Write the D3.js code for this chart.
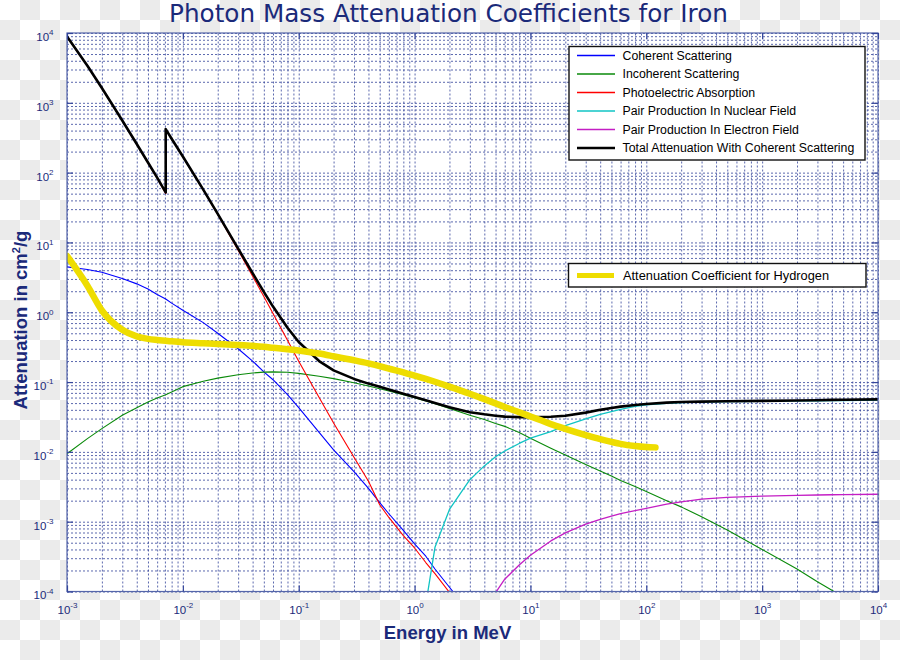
<!DOCTYPE html>
<html><head><meta charset="utf-8">
<script src="https://cdn.jsdelivr.net/npm/d3@7"></script>
<style>body{margin:0;background:#fff}svg{display:block}</style>
</head><body>
<script>
// ---------------- DATA ----------------
const energies = [0.001,0.0015,0.002,0.003,0.004,0.005,0.006,0.007112,0.007112,0.008,0.01,0.015,0.02,0.03,0.04,0.05,0.06,0.08,0.1,0.15,0.2,0.3,0.4,0.5,0.6,0.8,1,1.25,1.5,2,3,4,5,6,8,10,15,20,30,40,50,60,80,100,150,200,300,500,1000,2000,3000,4000,5000,10000];
const coherent = [4.46,4.1,3.75,3.05,2.55,2.15,1.8,1.55,1.55,1.35,1.07,0.71,0.50,0.30,0.20,0.14,0.108,0.066,0.043,0.019,0.0107,0.0052,0.003,0.00187,0.0013,0.00075,0.00048,0.00032,0.00021,0.000115,0.00005,null,null,null,null,null,null,null,null,null,null,null,null,null,null,null,null,null,null,null,null,null,null,null];
const incoherent = [0.0094,0.0155,0.0215,0.0335,0.043,0.052,0.059,0.066,0.066,0.072,0.086,0.103,0.114,0.127,0.135,0.139,0.140,0.138,0.133,0.121,0.112,0.098,0.088,0.080,0.0745,0.066,0.0595,0.0535,0.049,0.042,0.0335,0.029,0.0255,0.0232,0.019,0.0157,0.0113,0.0090,0.0066,0.0053,0.0045,0.0039,0.0032,0.0027,0.0020,0.00163,0.00118,0.00076,0.00040,0.00021,0.000138,0.000104,0.000084,0.000045];
const photoelectric = [8895,3395,1622,554.5,254.1,137.6,82.9,50.4,418.4,304.2,169.4,56.27,25.07,7.75,3.29,1.68,0.957,0.396,0.199,0.06,0.026,0.0084,0.0038,0.00175,0.00115,0.00063,0.00042,0.00026,0.00018,0.000097,0.00004,null,null,null,null,null,null,null,null,null,null,null,null,null,null,null,null,null,null,null,null,null,null,null];
const pairNuclear = [null,null,null,null,null,null,null,null,null,null,null,null,null,null,null,null,null,null,null,null,null,null,null,null,null,null,null,0.000065,0.00043,0.0015,0.0040,0.0063,0.0085,0.0103,0.0132,0.0157,0.0195,0.0238,0.0298,0.0345,0.0378,0.0405,0.0448,0.0472,0.0497,0.0508,0.0516,0.0524,0.0531,0.0537,0.0540,0.0542,0.0544,0.0550];
const pairElectron = [null,null,null,null,null,null,null,null,null,null,null,null,null,null,null,null,null,null,null,null,null,null,null,null,null,null,null,null,null,null,null,0.000055,0.000096,0.00015,0.00024,0.00033,0.00053,0.00069,0.00092,0.00108,0.0012,0.0013,0.00144,0.00155,0.00178,0.00192,0.0021,0.00223,0.00232,0.00238,0.00241,0.00243,0.00244,0.00247];
const total = [8900,3399,1626,557.6,256.7,139.8,84.8,52,420,305.6,170.6,57.08,25.68,8.176,3.629,1.958,1.205,0.60,0.375,0.200,0.147,0.111,0.095,0.0855,0.078,0.068,0.061,0.055,0.050,0.0435,0.037,0.0345,0.033,0.032,0.0315,0.0313,0.0318,0.033,0.0365,0.040,0.0425,0.0445,0.047,0.0485,0.0508,0.0518,0.0525,0.0532,0.0538,0.0545,0.0550,0.0555,0.0557,0.0565];
const hydrogenEnergies = [0.001,0.0015,0.002,0.003,0.004,0.005,0.006,0.008,0.01,0.015,0.02,0.03,0.04,0.05,0.06,0.08,0.1,0.15,0.2,0.3,0.4,0.5,0.6,0.8,1,1.25,1.5,2,3,4,5,6,8,10,15,20,30,40,50,60,80,100,120];
const hydrogen = [6.4,2.4,1.06,0.56,0.45,0.415,0.40,0.383,0.372,0.36,0.352,0.34,0.33,0.32,0.31,0.295,0.283,0.256,0.234,0.205,0.185,0.169,0.156,0.138,0.124,0.111,0.101,0.086,0.068,0.057,0.0495,0.044,0.037,0.0322,0.025,0.0214,0.0174,0.0152,0.0139,0.013,0.0121,0.0117,0.0116];
const xTickExponents = [-3,-2,-1,0,1,2,3,4];
const yTickExponents = [-4,-3,-2,-1,0,1,2,3,4];
const seriesNames = ["Coherent Scattering","Incoherent Scattering","Photoelectric Absorption","Pair Production In Nuclear Field","Pair Production In Electron Field","Total Attenuation With Coherent Scattering"];
const hydrogenName = "Attenuation Coefficient for Hydrogen";

// ---------------- STYLE / LAYOUT ----------------
const W = 900, H = 660;
const L = 67, R = 878, T = 33, B = 591.5;
const navy = "#1b2a7a";
const seriesColors = ["#0000ff","#0a8a0a","#ff0000","#11c4c4","#c41ec4","#000000"];
const seriesWidths = [1.1,1.1,1.1,1.3,1.3,2.6];
const seriesData = [coherent, incoherent, photoelectric, pairNuclear, pairElectron, total];

const svg = d3.select("body").append("svg").attr("width", W).attr("height", H)
  .style("font-family", "'Liberation Sans', Arial, sans-serif");
const defs = svg.append("defs");
const pat = defs.append("pattern").attr("id","chk").attr("width",40).attr("height",40).attr("patternUnits","userSpaceOnUse");
pat.append("rect").attr("width",40).attr("height",40).attr("fill","#ffffff");
pat.append("rect").attr("x",20).attr("y",0).attr("width",20).attr("height",20).attr("fill","#ebebeb");
pat.append("rect").attr("x",0).attr("y",20).attr("width",20).attr("height",20).attr("fill","#ebebeb");
svg.append("rect").attr("width",W).attr("height",H).attr("fill","url(#chk)");
defs.append("clipPath").attr("id","plotclip").append("rect").attr("x",L).attr("y",T).attr("width",R-L).attr("height",B-T);

const x = d3.scaleLog().domain([1e-3,1e4]).range([L,R]);
const y = d3.scaleLog().domain([1e-4,1e4]).range([B,T]);

svg.append("rect").attr("x",L).attr("y",T).attr("width",R-L).attr("height",B-T).attr("fill","#ffffff");

// grid values (major + minor)
const xGrid = [], yGrid = [];
for (let e = -3; e < 4; e++) for (let k = 1; k <= 9; k++) xGrid.push(k*Math.pow(10,e));
xGrid.push(1e4);
for (let e = -4; e < 4; e++) for (let k = 1; k <= 9; k++) yGrid.push(k*Math.pow(10,e));
yGrid.push(1e4);

const gx = svg.append("g").attr("transform",`translate(0,${B})`)
  .call(d3.axisBottom(x).tickValues(xGrid).tickSize(-(B-T)).tickFormat(""));
const gy = svg.append("g").attr("transform",`translate(${L},0)`)
  .call(d3.axisLeft(y).tickValues(yGrid).tickSize(-(R-L)).tickFormat(""));
[gx, gy].forEach(g => {
  g.select(".domain").remove();
  g.selectAll(".tick line").attr("stroke","#33449a").attr("stroke-opacity",0.8)
    .attr("stroke-width",1).attr("stroke-dasharray","2,2");
});

// curves
const plot = svg.append("g").attr("clip-path","url(#plotclip)");
const line = d3.line().defined(d => d[1] != null).x(d => x(d[0])).y(d => y(d[1]));
seriesData.forEach((vals, i) => {
  plot.append("path").datum(energies.map((e, j) => [e, vals[j]]))
    .attr("fill","none").attr("stroke",seriesColors[i]).attr("stroke-width",seriesWidths[i])
    .attr("stroke-linejoin","round").attr("d", line);
});
plot.append("path").datum(hydrogenEnergies.map((e, j) => [e, hydrogen[j]]))
  .attr("fill","none").attr("stroke","#eedd00").attr("stroke-width",6.5)
  .attr("stroke-linecap","round").attr("stroke-linejoin","round")
  .attr("d", line.curve(d3.curveMonotoneX));

// frame
svg.append("rect").attr("x",L).attr("y",T).attr("width",R-L).attr("height",B-T)
  .attr("fill","none").attr("stroke","#5566aa").attr("stroke-width",1.2);

// major ticks on all sides (inward)
const majX = xTickExponents.map(e => Math.pow(10,e));
const majY = yTickExponents.map(e => Math.pow(10,e));
const tickSets = [
  svg.append("g").attr("transform",`translate(0,${B})`).call(d3.axisBottom(x).tickValues(majX).tickSize(-6).tickFormat("")),
  svg.append("g").attr("transform",`translate(0,${T})`).call(d3.axisTop(x).tickValues(majX).tickSize(-6).tickFormat("")),
  svg.append("g").attr("transform",`translate(${L},0)`).call(d3.axisLeft(y).tickValues(majY).tickSize(-6).tickFormat("")),
  svg.append("g").attr("transform",`translate(${R},0)`).call(d3.axisRight(y).tickValues(majY).tickSize(-6).tickFormat(""))
];
tickSets.forEach(g => {
  g.select(".domain").remove();
  g.selectAll(".tick line").attr("stroke","#34459a").attr("stroke-width",1.2);
  g.selectAll(".tick text").remove();
});

// tick labels
function sup(sel, raise) {
  sel.each(function(d) {
    const t = d3.select(this);
    t.text(null);
    t.append("tspan").text("10");
    t.append("tspan").attr("dy", -raise).attr("font-size", 8).text(Math.round(Math.log10(d)));
  });
}
const xl = svg.append("g").attr("transform",`translate(0,${B})`)
  .call(d3.axisBottom(x).tickValues(majX).tickSize(0).tickFormat(d => "x"));
xl.select(".domain").remove();
xl.selectAll(".tick text").attr("y",22).attr("dy",0).attr("fill",navy).attr("font-size",11.5)
  .attr("font-family","'Liberation Sans', Arial, sans-serif").call(sup, 6);
const yl = svg.append("g").attr("transform",`translate(${L},0)`)
  .call(d3.axisLeft(y).tickValues(majY).tickSize(0).tickPadding(13.5).tickFormat(d => "x"));
yl.select(".domain").remove();
yl.selectAll(".tick text").attr("dy","0.64em").attr("fill",navy).attr("font-size",11.5)
  .attr("font-family","'Liberation Sans', Arial, sans-serif").call(sup, 5.5);

// titles
svg.append("text").attr("x",448.5).attr("y",22).attr("text-anchor","middle")
  .attr("fill",navy).attr("font-size",24.7).attr("font-family","'DejaVu Sans', sans-serif")
  .text("Photon Mass Attenuation Coefficients for Iron");
svg.append("text").attr("x",447.5).attr("y",639).attr("text-anchor","middle")
  .attr("fill",navy).attr("font-size",18.5).attr("font-weight","bold").text("Energy in MeV");
const yt = svg.append("text").attr("transform","translate(27,320) rotate(-90)").attr("text-anchor","middle")
  .attr("fill",navy).attr("font-size",18.5).attr("font-weight","bold");
yt.append("tspan").text("Attenuation in cm");
yt.append("tspan").attr("dy",-7).attr("font-size",11).text("2");
yt.append("tspan").attr("dy",7).text("/g");

// legend 1
const lg = svg.append("g");
lg.append("rect").attr("x",569).attr("y",46.5).attr("width",296).attr("height",113.5)
  .attr("fill","#fff").attr("stroke","#111").attr("stroke-width",1.4);
seriesNames.forEach((name, i) => {
  const cy = 55.5 + i*18.5;
  lg.append("line").attr("x1",577).attr("x2",615).attr("y1",cy).attr("y2",cy)
    .attr("stroke",seriesColors[i]).attr("stroke-width", i === 5 ? 2.6 : 1.6);
  lg.append("text").attr("x",622.5).attr("y",cy+4.2).attr("font-size",12.3).attr("fill","#000").text(name);
});
// legend 2
const lg2 = svg.append("g");
lg2.append("rect").attr("x",568.5).attr("y",263.5).attr("width",297.5).attr("height",23.5)
  .attr("fill","#fff").attr("stroke","#111").attr("stroke-width",1.4);
lg2.append("line").attr("x1",577).attr("x2",614).attr("y1",275.5).attr("y2",275.5)
  .attr("stroke","#eedd00").attr("stroke-width",5);
lg2.append("text").attr("x",623).attr("y",280).attr("font-size",12.8).attr("fill","#000").text(hydrogenName);
</script>
</body></html>
